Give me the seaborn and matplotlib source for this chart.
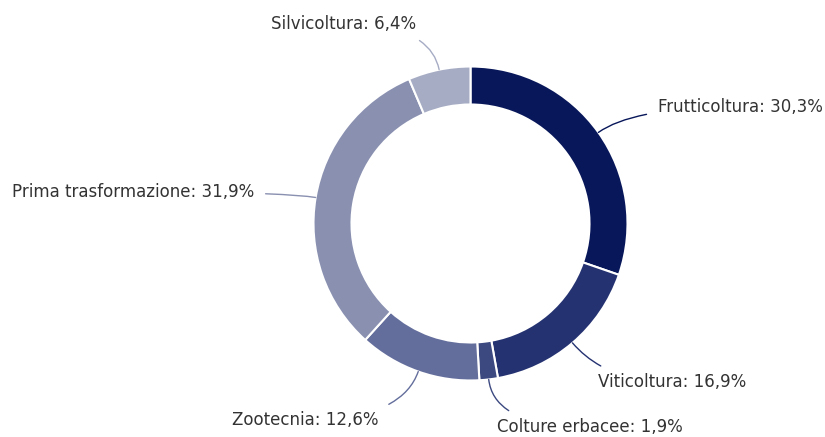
import numpy as np
import matplotlib
matplotlib.use("Agg")
import matplotlib.pyplot as plt
import seaborn as sns

sns.set_theme(style="white")
plt.rcParams['font.family'] = ['DejaVu Sans']

categories = ["Frutticoltura", "Viticoltura", "Colture erbacee", "Zootecnia",
              "Prima trasformazione", "Silvicoltura"]
values = [30.3, 16.9, 1.9, 12.6, 31.9, 6.4]
colors = ["#08175a", "#243271", "#3c4980", "#646e9c", "#8990b0", "#a6acc4"]

# label layout (pixel coords, y from top) and alignment
label_pos = [(658, 107), (598, 382), (497, 427), (378, 420), (254, 192), (416, 24)]
label_ha = ["left", "left", "left", "right", "right", "right"]

W, H = 825, 437
fig = plt.figure(figsize=(W / 100, H / 100), dpi=100)
ax = fig.add_axes([0, 0, 1, 1])

cx, cy, R, ring = 470.5, H - 223.5, 157, 38
wedges, _ = ax.pie(values, colors=colors, startangle=90, counterclock=False,
                   center=(cx, cy), radius=R, frame=True,
                   wedgeprops=dict(width=ring, edgecolor="white", linewidth=1.5))
ax.set_xlim(0, W)
ax.set_ylim(0, H)
ax.set_aspect("equal")
ax.axis("off")

for w, cat, val, col, (tx, ty), ha in zip(wedges, categories, values, colors, label_pos, label_ha):
    ang = np.deg2rad((w.theta1 + w.theta2) / 2)
    px, py = cx + R * np.cos(ang), cy + R * np.sin(ang)
    txt = f"{cat}: {val:.1f}%".replace(".", ",")
    ax.annotate(txt, xy=(px, py), xytext=(tx, H - ty), ha=ha, va="center",
                fontsize=12, color="#333333",
                arrowprops=dict(arrowstyle="-", color=col, lw=1,
                                shrinkA=6, shrinkB=0,
                                connectionstyle=f"angle3,angleA=0,angleB={np.rad2deg(ang):.1f}"))

fig.savefig("out.png", dpi=100)
